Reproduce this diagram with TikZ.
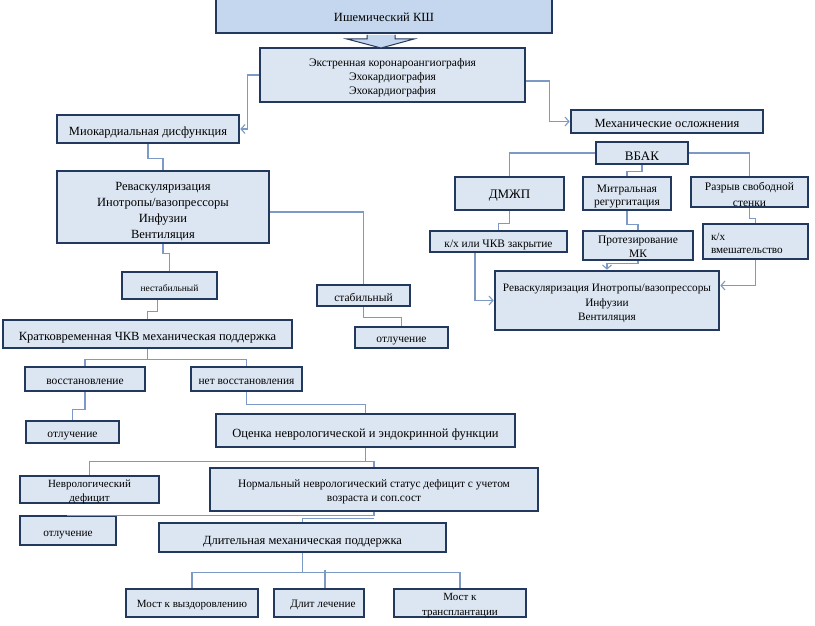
\documentclass[tikz,border=0pt]{standalone}
\usepackage{fontspec}
\setmainfont{Liberation Serif}
\usetikzlibrary{arrows.meta}
\definecolor{boxfill}{RGB}{220,230,242}
\definecolor{topfill}{RGB}{197,215,238}
\definecolor{boxline}{RGB}{34,56,92}
\definecolor{connc}{RGB}{125,154,198}
\newcommand\myfs[2]{\fontsize{#1}{#2}\selectfont}
\begin{document}
\begin{tikzpicture}[x=1pt,y=-1pt,
  box/.style={draw=boxline, line width=2.6pt, fill=boxfill, inner sep=0pt},
  lbl/.style={align=center, inner sep=0pt, yshift=-3pt, font=\myfs{11}{14}},
  wh/.style 2 args={minimum width=#1pt, minimum height=#2pt},
  conn/.style={draw=connc, line width=1.1pt},
  arr/.style={conn, -{Straight Barb[length=4pt,width=9pt]}}]
\useasboundingbox (0,0) rectangle (815,626);
% top
\node[box, fill=topfill, wh={336}{36}, label={[lbl, yshift=1pt, font=\myfs{12.5}{15}]center:{Ишемический КШ}}] (ish) at (384,15) {};
\node[box, wh={265}{54}, label={[lbl, font=\myfs{11.5}{14}]center:{Экстренная коронароангиография\\Эхокардиография\\Эхокардиография}}] (kor) at (392.5,75) {};
\draw[fill=topfill, draw=boxline, line width=1pt] (367,35) -- (367,39) -- (347,39) -- (381,48) -- (414,39) -- (395,39) -- (395,35);
% left branch
\node[box, wh={182}{28}, label={[lbl, yshift=-1pt, font=\myfs{12.5}{15}]center:{Миокардиальная дисфункция}}] (miok) at (148,129) {};
\node[box, wh={212}{72}, label={[lbl, yshift=-1.5pt, font=\myfs{12.5}{16}]center:{Реваскуляризация\\Инотропы/вазопрессоры\\Инфузии\\Вентиляция}}] (rev1) at (163,207) {};
\node[box, wh={95}{27}, label={[lbl, font=\myfs{9.5}{12}]center:{нестабильный}}] (nest) at (169.5,285.5) {};
\node[box, wh={93}{21}, label={[lbl, yshift=1pt, font=\myfs{11.5}{12}]center:{стабильный}}] (stab) at (363.5,295.5) {};
\node[box, wh={93}{21}, label={[lbl, yshift=-1pt, font=\myfs{11.5}{12}]center:{отлучение}}] (otl1) at (401.5,337.5) {};
\node[box, wh={289}{28}, label={[lbl, yshift=-1pt, font=\myfs{12.5}{15}]center:{Кратковременная ЧКВ механическая поддержка}}] (krat) at (147.5,334) {};
\node[box, wh={120}{24}, label={[lbl, font=\myfs{11.5}{12}]center:{восстановление}}] (vosst) at (85,379) {};
\node[box, wh={111}{24}, label={[lbl, font=\myfs{11.4}{12}]center:{нет восстановления}}] (net) at (246.5,379) {};
\node[box, wh={93}{22}, label={[lbl, yshift=-1pt, font=\myfs{11.5}{12}]center:{отлучение}}] (otl2) at (72.5,432) {};
\node[box, wh={299}{33}, label={[lbl, yshift=-1pt, font=\myfs{12.5}{15}]center:{Оценка неврологической и эндокринной функции}}] (ocen) at (365.5,430.5) {};
\node[box, wh={139}{27}, label={[lbl, yshift=1pt, font=\myfs{11}{14}]center:{Неврологический\\дефицит}}] (nevr) at (89.5,489.5) {};
\node[box, wh={328}{43}, label={[lbl, yshift=1pt, font=\myfs{11.4}{14}]center:{Нормальный неврологический статус дефицит с учетом\\возраста и соп.сост}}] (norm) at (374,489.5) {};
\node[box, wh={96}{29}, label={[lbl, yshift=-2pt, font=\myfs{11.3}{12}]center:{отлучение}}] (otl3) at (68,530.5) {};
\node[box, wh={287}{29}, label={[lbl, yshift=-1pt, font=\myfs{12.5}{15}]center:{Длительная механическая поддержка}}] (dlit) at (302.5,537.5) {};
\node[box, wh={132}{28}, label={[lbl, yshift=1pt, font=\myfs{11}{14}]center:{Мост к выздоровлению}}] (most1) at (192,603) {};
\node[box, wh={90}{28}, label={[lbl, yshift=1pt, xshift=4pt, font=\myfs{11.3}{14}]center:{Длит лечение}}] (dlitl) at (319,603) {};
\node[box, wh={132}{28}, label={[lbl, font=\myfs{11}{15}]center:{Мост к\\трансплантации}}] (most2) at (460,603) {};
% right branch
\node[box, wh={192}{23}, label={[lbl, yshift=1pt, font=\myfs{12.5}{14}]center:{Механические осложнения}}] (mech) at (667,121.5) {};
\node[box, wh={92}{22}, label={[lbl, font=\myfs{13}{14}]center:{ВБАК}}] (vbak) at (642,153) {};
\node[box, wh={109}{33}, label={[lbl, yshift=1pt, font=\myfs{13}{14}]center:{ДМЖП}}] (dmzhp) at (509.5,193.5) {};
\node[box, wh={88}{33}, label={[lbl, yshift=0.5pt, font=\myfs{11.5}{13}]center:{Митральная\\регургитация}}] (mitr) at (627,193.5) {};
\node[box, wh={117}{30}, label={[lbl, yshift=1pt, font=\myfs{11.5}{16}]center:{Разрыв свободной\\стенки}}] (razr) at (749.5,192) {};
\node[box, wh={137}{21}, label={[lbl, font=\myfs{11.4}{13}]center:{к/х или ЧКВ закрытие}}] (kx1) at (498.5,241.5) {};
\node[box, wh={110}{29}, label={[lbl, yshift=2pt, font=\myfs{11.5}{14}]center:{Протезирование\\МК}}] (prot) at (638,245.5) {};
\node[box, wh={105}{35}, label={[lbl, yshift=1.5pt, font=\myfs{11.2}{13}, text width=89pt, align=left]center:{к/х\\вмешательство}}] (kx2) at (755.5,241.5) {};
\node[box, wh={224}{59}, label={[lbl, font=\myfs{11.3}{14.5}]center:{Реваскуляризация Инотропы/вазопрессоры\\Инфузии\\Вентиляция}}] (rev2) at (607,300.5) {};
% connectors
\draw[arr] (kor.west) -- ++(-11,0) |- (miok.east);
\draw[arr] ([yshift=-6pt]kor.east) -- ++(23,0) |- (mech.west);
\draw[conn] (miok.south) -- ++(0,14) -| (rev1.north);
\draw[conn] (rev1.south) -- ++(0,9) -| (nest.north);
\draw[conn] ([yshift=-5pt]rev1.east) -| (stab.north);
\draw[conn] (stab.south) -- ++(0,10) -| (otl1.north);
\draw[conn] ([xshift=-12pt]nest.south) -- ++(0,11) -| (krat.north);
\draw[conn] (krat.south) -- ++(0,10);
\draw[conn] (vosst.north) |- ([yshift=-10pt]krat.south) -| (net.north);
\draw[conn] (vosst.south) -- ++(0,17) -| (otl2.north);
\draw[conn] (net.south) -- ++(0,12) -| (ocen.north);
\draw[conn] (ocen.south) -- ++(0,13);
\draw[conn] (nevr.north) |- ([yshift=-13pt]ocen.south) -| (norm.north);
\draw[conn] (otl3.north) |- ([yshift=-3pt]norm.south) -- (norm.south);
\draw[conn] ([yshift=-6pt]norm.south) -| (dlit.north);
\draw[conn] (dlit.south) -- ++(0,19);
\draw[conn] (most1.north) |- ([yshift=-19pt]dlit.south) -| (most2.north);
\draw[conn] ([xshift=6pt]dlitl.north) -- ++(0,-18);
\draw[conn] (vbak.west) -| (dmzhp.north);
\draw[conn] (vbak.east) -| (razr.north);
\draw[conn] (vbak.south) -- ++(0,6) -| (mitr.north);
\draw[conn] (dmzhp.south) -- ++(0,12) -| (kx1.north);
\draw[conn] (mitr.south) -- ++(0,13) -| (prot.north);
\draw[conn] (razr.south) -- ++(0,10) -| (kx2.north);
\draw[arr] ([xshift=-23.5pt]kx1.south) |- (rev2.west);
\draw[arr] (prot.south) -- ++(0,2) -| (rev2.north);
\draw[arr] (kx2.south) |- ([yshift=15pt]rev2.east);
\end{tikzpicture}
\end{document}
